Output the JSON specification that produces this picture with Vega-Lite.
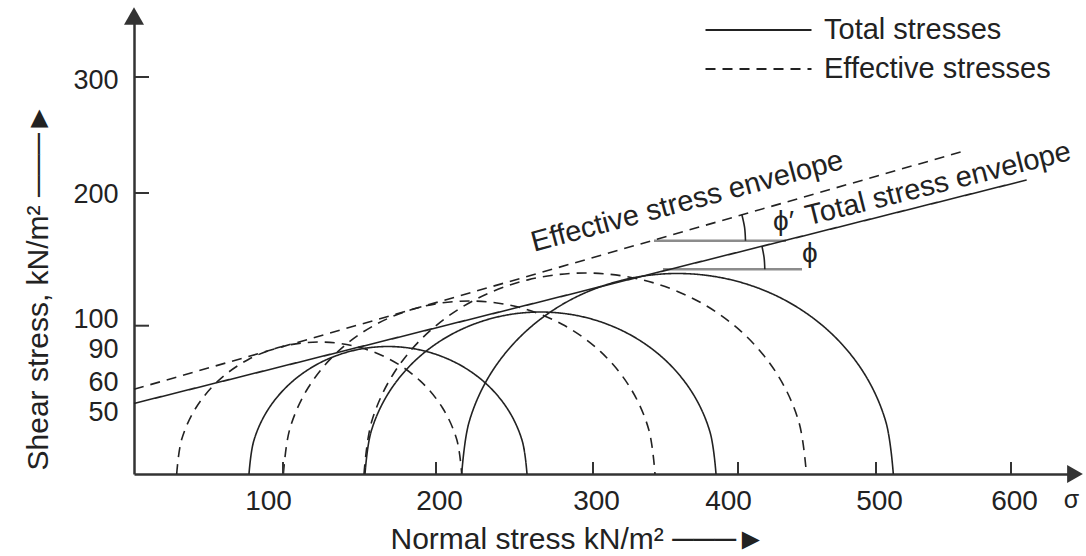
{
  "$schema": "https://vega.github.io/schema/vega-lite/v6.json",
  "width": 941,
  "height": 458,
  "autosize": {"type": "none"},
  "padding": {"left": 134, "top": 16, "right": 11, "bottom": 82},
  "background": "white",
  "config": {"view": {"stroke": null}, "font": "Liberation Sans"},
  "datasets": {
    "curves": [
      {"id": "T1", "stress": "Total stresses", "o": 0, "sigma": 77.18, "tau": 0},
      {"id": "T1", "stress": "Total stresses", "o": 1, "sigma": 80.36, "tau": 23.39},
      {"id": "T1", "stress": "Total stresses", "o": 2, "sigma": 89.68, "tau": 45.18},
      {"id": "T1", "stress": "Total stresses", "o": 3, "sigma": 104.39, "tau": 63.89},
      {"id": "T1", "stress": "Total stresses", "o": 4, "sigma": 123.2, "tau": 78.25},
      {"id": "T1", "stress": "Total stresses", "o": 5, "sigma": 145.12, "tau": 87.27},
      {"id": "T1", "stress": "Total stresses", "o": 6, "sigma": 168.63, "tau": 90.23},
      {"id": "T1", "stress": "Total stresses", "o": 7, "sigma": 192.14, "tau": 87.27},
      {"id": "T1", "stress": "Total stresses", "o": 8, "sigma": 213.69, "tau": 78.25},
      {"id": "T1", "stress": "Total stresses", "o": 9, "sigma": 232.03, "tau": 63.89},
      {"id": "T1", "stress": "Total stresses", "o": 10, "sigma": 246.1, "tau": 45.18},
      {"id": "T1", "stress": "Total stresses", "o": 11, "sigma": 254.94, "tau": 23.39},
      {"id": "T1", "stress": "Total stresses", "o": 12, "sigma": 257.96, "tau": 0},
      {"id": "T2", "stress": "Total stresses", "o": 0, "sigma": 153.59, "tau": 0},
      {"id": "T2", "stress": "Total stresses", "o": 1, "sigma": 157.5, "tau": 29.71},
      {"id": "T2", "stress": "Total stresses", "o": 2, "sigma": 168.97, "tau": 57.4},
      {"id": "T2", "stress": "Total stresses", "o": 3, "sigma": 187.19, "tau": 81.18},
      {"id": "T2", "stress": "Total stresses", "o": 4, "sigma": 210.67, "tau": 96.24},
      {"id": "T2", "stress": "Total stresses", "o": 5, "sigma": 237.63, "tau": 106.16},
      {"id": "T2", "stress": "Total stresses", "o": 6, "sigma": 266.56, "tau": 110.32},
      {"id": "T2", "stress": "Total stresses", "o": 7, "sigma": 295.49, "tau": 106.16},
      {"id": "T2", "stress": "Total stresses", "o": 8, "sigma": 324.31, "tau": 96.24},
      {"id": "T2", "stress": "Total stresses", "o": 9, "sigma": 349.38, "tau": 81.18},
      {"id": "T2", "stress": "Total stresses", "o": 10, "sigma": 368.61, "tau": 57.4},
      {"id": "T2", "stress": "Total stresses", "o": 11, "sigma": 380.7, "tau": 29.71},
      {"id": "T2", "stress": "Total stresses", "o": 12, "sigma": 384.83, "tau": 0},
      {"id": "T3", "stress": "Total stresses", "o": 0, "sigma": 216.37, "tau": 0},
      {"id": "T3", "stress": "Total stresses", "o": 1, "sigma": 221.06, "tau": 36.77},
      {"id": "T3", "stress": "Total stresses", "o": 2, "sigma": 234.78, "tau": 71.04},
      {"id": "T3", "stress": "Total stresses", "o": 3, "sigma": 256.63, "tau": 96.93},
      {"id": "T3", "stress": "Total stresses", "o": 4, "sigma": 285.1, "tau": 119.09},
      {"id": "T3", "stress": "Total stresses", "o": 5, "sigma": 319.76, "tau": 134.18},
      {"id": "T3", "stress": "Total stresses", "o": 6, "sigma": 358.28, "tau": 139.34},
      {"id": "T3", "stress": "Total stresses", "o": 7, "sigma": 396.79, "tau": 134.18},
      {"id": "T3", "stress": "Total stresses", "o": 8, "sigma": 434.35, "tau": 119.09},
      {"id": "T3", "stress": "Total stresses", "o": 9, "sigma": 466.73, "tau": 96.93},
      {"id": "T3", "stress": "Total stresses", "o": 10, "sigma": 491.59, "tau": 71.04},
      {"id": "T3", "stress": "Total stresses", "o": 11, "sigma": 507.36, "tau": 36.77},
      {"id": "T3", "stress": "Total stresses", "o": 12, "sigma": 512.81, "tau": 0},
      {"id": "E1", "stress": "Effective stresses", "o": 0, "sigma": 28.66, "tau": 0},
      {"id": "E1", "stress": "Effective stresses", "o": 1, "sigma": 31.92, "tau": 24.21},
      {"id": "E1", "stress": "Effective stresses", "o": 2, "sigma": 41.47, "tau": 46.77},
      {"id": "E1", "stress": "Effective stresses", "o": 3, "sigma": 56.67, "tau": 66.15},
      {"id": "E1", "stress": "Effective stresses", "o": 4, "sigma": 76.48, "tau": 81.01},
      {"id": "E1", "stress": "Effective stresses", "o": 5, "sigma": 99.54, "tau": 90.23},
      {"id": "E1", "stress": "Effective stresses", "o": 6, "sigma": 123.66, "tau": 92.35},
      {"id": "E1", "stress": "Effective stresses", "o": 7, "sigma": 147.76, "tau": 90.23},
      {"id": "E1", "stress": "Effective stresses", "o": 8, "sigma": 170.23, "tau": 81.01},
      {"id": "E1", "stress": "Effective stresses", "o": 9, "sigma": 189.52, "tau": 66.15},
      {"id": "E1", "stress": "Effective stresses", "o": 10, "sigma": 204.21, "tau": 46.77},
      {"id": "E1", "stress": "Effective stresses", "o": 11, "sigma": 213.27, "tau": 24.21},
      {"id": "E1", "stress": "Effective stresses", "o": 12, "sigma": 216.37, "tau": 0},
      {"id": "E2", "stress": "Effective stresses", "o": 0, "sigma": 100.26, "tau": 0},
      {"id": "E2", "stress": "Effective stresses", "o": 1, "sigma": 104.4, "tau": 31.73},
      {"id": "E2", "stress": "Effective stresses", "o": 2, "sigma": 116.54, "tau": 61.3},
      {"id": "E2", "stress": "Effective stresses", "o": 3, "sigma": 135.83, "tau": 86.69},
      {"id": "E2", "stress": "Effective stresses", "o": 4, "sigma": 160.98, "tau": 101.15},
      {"id": "E2", "stress": "Effective stresses", "o": 5, "sigma": 190.27, "tau": 114.17},
      {"id": "E2", "stress": "Effective stresses", "o": 6, "sigma": 221.15, "tau": 118.61},
      {"id": "E2", "stress": "Effective stresses", "o": 7, "sigma": 251.78, "tau": 114.17},
      {"id": "E2", "stress": "Effective stresses", "o": 8, "sigma": 280.32, "tau": 101.15},
      {"id": "E2", "stress": "Effective stresses", "o": 9, "sigma": 305.23, "tau": 86.69},
      {"id": "E2", "stress": "Effective stresses", "o": 10, "sigma": 325.59, "tau": 61.3},
      {"id": "E2", "stress": "Effective stresses", "o": 11, "sigma": 338.39, "tau": 31.73},
      {"id": "E2", "stress": "Effective stresses", "o": 12, "sigma": 342.76, "tau": 0},
      {"id": "E3", "stress": "Effective stresses", "o": 0, "sigma": 152.94, "tau": 0},
      {"id": "E3", "stress": "Effective stresses", "o": 1, "sigma": 157.87, "tau": 36.86},
      {"id": "E3", "stress": "Effective stresses", "o": 2, "sigma": 172.31, "tau": 71.22},
      {"id": "E3", "stress": "Effective stresses", "o": 3, "sigma": 195.29, "tau": 97.1},
      {"id": "E3", "stress": "Effective stresses", "o": 4, "sigma": 224.59, "tau": 119.42},
      {"id": "E3", "stress": "Effective stresses", "o": 5, "sigma": 258.57, "tau": 134.55},
      {"id": "E3", "stress": "Effective stresses", "o": 6, "sigma": 295.03, "tau": 139.71},
      {"id": "E3", "stress": "Effective stresses", "o": 7, "sigma": 334.1, "tau": 134.55},
      {"id": "E3", "stress": "Effective stresses", "o": 8, "sigma": 370.9, "tau": 119.42},
      {"id": "E3", "stress": "Effective stresses", "o": 9, "sigma": 402.62, "tau": 97.1},
      {"id": "E3", "stress": "Effective stresses", "o": 10, "sigma": 428.09, "tau": 71.22},
      {"id": "E3", "stress": "Effective stresses", "o": 11, "sigma": 444.1, "tau": 36.86},
      {"id": "E3", "stress": "Effective stresses", "o": 12, "sigma": 449.57, "tau": 0},
      {"id": "TE", "stress": "Total stresses", "o": 0, "sigma": 0, "tau": 50},
      {"id": "TE", "stress": "Total stresses", "o": 1, "sigma": 611.63, "tau": 211.21},
      {"id": "EE", "stress": "Effective stresses", "o": 0, "sigma": 0, "tau": 60},
      {"id": "EE", "stress": "Effective stresses", "o": 1, "sigma": 563.48, "tau": 235.6}
    ],
    "refs": [
      {"id": "H1", "sigma": 342.07, "tau": 164.05},
      {"id": "H1", "sigma": 434.78, "tau": 164.05},
      {"id": "H2", "sigma": 348.28, "tau": 142.5},
      {"id": "H2", "sigma": 446.38, "tau": 142.5}
    ],
    "arcs": [
      {"id": "A1", "o": 0, "sigma": 405.43, "tau": 164.05},
      {"id": "A1", "o": 1, "sigma": 404.77, "tau": 174.02},
      {"id": "A1", "o": 2, "sigma": 402.77, "tau": 183.78},
      {"id": "A2", "o": 0, "sigma": 419.42, "tau": 142.5},
      {"id": "A2", "o": 1, "sigma": 418.91, "tau": 151.23},
      {"id": "A2", "o": 2, "sigma": 417.38, "tau": 159.82}
    ],
    "xticks": [{"sigma": 100, "tau": 0}, {"sigma": 200, "tau": 0}, {"sigma": 300, "tau": 0}, {"sigma": 400, "tau": 0}, {"sigma": 500, "tau": 0}, {"sigma": 600, "tau": 0}],
    "yticks": [{"sigma": 0, "tau": 100}, {"sigma": 0, "tau": 200}, {"sigma": 0, "tau": 300}]
  },
  "encoding": {
    "x": {
      "field": "sigma",
      "type": "quantitative",
      "scale": {"type": "linear", "domain": [0, 100, 200, 300, 400, 500, 600, 647.4], "range": [0, 149, 302, 459, 604, 742, 877, 941], "zero": false, "nice": false},
      "axis": {
        "values": [100, 200, 300, 400, 500, 600, 647.4],
        "labelExpr": "datum.value > 640 ? 'σ' : datum.label",
        "title": "Normal stress kN/m²  ───►",
        "grid": false,
        "ticks": false,
        "domainColor": "#333",
        "domainWidth": 2.5,
        "labelFontSize": {"condition": {"test": "datum.value > 640", "value": 25}, "value": 28},
        "labelOffset": {"condition": [{"test": "datum.value == 100", "value": -15}, {"test": "datum.value == 400", "value": -10}, {"test": "datum.value > 640", "value": -4}], "value": 3},
        "labelPadding": 13,
        "labelColor": "#222",
        "labelFont": "Liberation Sans",
        "labelFlush": false,
        "labelOverlap": false,
        "labelBound": false,
        "titleFont": "Liberation Sans",
        "titleFontSize": 30,
        "titleFontWeight": "normal",
        "titleColor": "#222",
        "titleX": 256,
        "titleY": 74,
        "titleAlign": "left",
        "titleBaseline": "alphabetic"
      }
    },
    "y": {
      "field": "tau",
      "type": "quantitative",
      "scale": {"type": "linear", "domain": [0, 90, 100, 200, 300, 352.6], "range": [458, 331, 309.7, 177, 61, 0], "zero": false, "nice": false},
      "axis": {
        "values": [50, 60, 90, 100, 200, 300],
        "title": "Shear stress, kN/m²  ───►",
        "grid": false,
        "ticks": false,
        "domainColor": "#333",
        "domainWidth": 2.5,
        "labelOffset": {"condition": [{"test": "datum.value == 300", "value": 3}, {"test": "datum.value == 100", "value": -6}, {"test": "datum.value == 90", "value": 2}, {"test": "datum.value == 60", "value": -7}, {"test": "datum.value == 50", "value": 9}], "value": 1},
        "labelPadding": 16,
        "labelFontSize": 27,
        "labelAlign": "right",
        "labelBaseline": "middle",
        "labelColor": "#222",
        "labelFont": "Liberation Sans",
        "labelOverlap": false,
        "labelBound": false,
        "labelFlush": false,
        "titleFont": "Liberation Sans",
        "titleFontSize": 30,
        "titleFontWeight": "normal",
        "titleColor": "#222",
        "titleX": -87,
        "titleY": 454,
        "titleAngle": 270,
        "titleAlign": "left",
        "titleBaseline": "alphabetic"
      }
    }
  },
  "layer": [
    {
      "data": {"name": "refs"},
      "mark": {"type": "line", "color": "#8c8c8c", "strokeWidth": 2.6},
      "encoding": {"detail": {"field": "id"}}
    },
    {
      "data": {"name": "curves"},
      "mark": {"type": "line", "interpolate": "cardinal", "strokeWidth": 1.6, "color": "#222"},
      "encoding": {
        "detail": {"field": "id"},
        "order": {"field": "o", "type": "quantitative"},
        "strokeDash": {
          "field": "stress",
          "type": "nominal",
          "scale": {"domain": ["Total stresses", "Effective stresses"], "range": [[1, 0], [10, 7]]},
          "legend": {
            "title": null,
            "orient": "none",
            "legendX": 610,
            "legendY": -0.5,
            "symbolType": "M-5.3,0H5.3",
            "symbolSize": 400,
            "symbolStrokeWidth": 1.8,
            "symbolStrokeColor": "#222",
            "labelFontSize": 29,
            "labelFont": "Liberation Sans",
            "labelColor": "#222",
            "labelOffset": 51,
            "labelLimit": 0,
            "rowPadding": 9,
            "padding": 0
          }
        }
      }
    },
    {
      "data": {"name": "arcs"},
      "mark": {"type": "line", "interpolate": "cardinal", "strokeWidth": 1.6, "color": "#222"},
      "encoding": {"detail": {"field": "id"}, "order": {"field": "o", "type": "quantitative"}}
    },
    {
      "data": {"name": "xticks"},
      "mark": {"type": "point", "shape": "M0,0V-1", "size": 576, "filled": false, "strokeWidth": 2, "opacity": 1, "color": "#333"}
    },
    {
      "data": {"name": "yticks"},
      "mark": {"type": "point", "shape": "M0,0H1", "size": 900, "filled": false, "strokeWidth": 2, "opacity": 1, "color": "#333"}
    },
    {
      "data": {"values": [{"text": "Effective stress envelope", "sigma": 262.42, "tau": 155.77}]},
      "mark": {"type": "text", "angle": 345, "align": "left", "baseline": "alphabetic", "fontSize": 29, "font": "Liberation Sans", "color": "#222"},
      "encoding": {"text": {"field": "text"}}
    },
    {
      "data": {"values": [{"text": "Total stress envelope", "sigma": 450.72, "tau": 175.51}]},
      "mark": {"type": "text", "angle": 346, "align": "left", "baseline": "alphabetic", "fontSize": 29, "font": "Liberation Sans", "color": "#222"},
      "encoding": {"text": {"field": "text"}}
    },
    {
      "data": {"values": [{"text": "ϕ′", "sigma": 425.36, "tau": 172.12}, {"text": "ϕ", "sigma": 446.38, "tau": 148.0}]},
      "mark": {"type": "text", "align": "left", "baseline": "alphabetic", "fontSize": 28, "font": "Liberation Sans", "color": "#222"},
      "encoding": {"text": {"field": "text"}}
    },
    {
      "data": {"values": [{"sigma": 0, "tau": 352.6}]},
      "mark": {"type": "point", "shape": "triangle-up", "size": 400, "filled": true, "opacity": 1, "color": "#333"}
    },
    {
      "data": {"values": [{"sigma": 647.4, "tau": 0}]},
      "mark": {"type": "point", "shape": "triangle-right", "size": 330, "filled": true, "opacity": 1, "color": "#333"}
    }
  ]
}
